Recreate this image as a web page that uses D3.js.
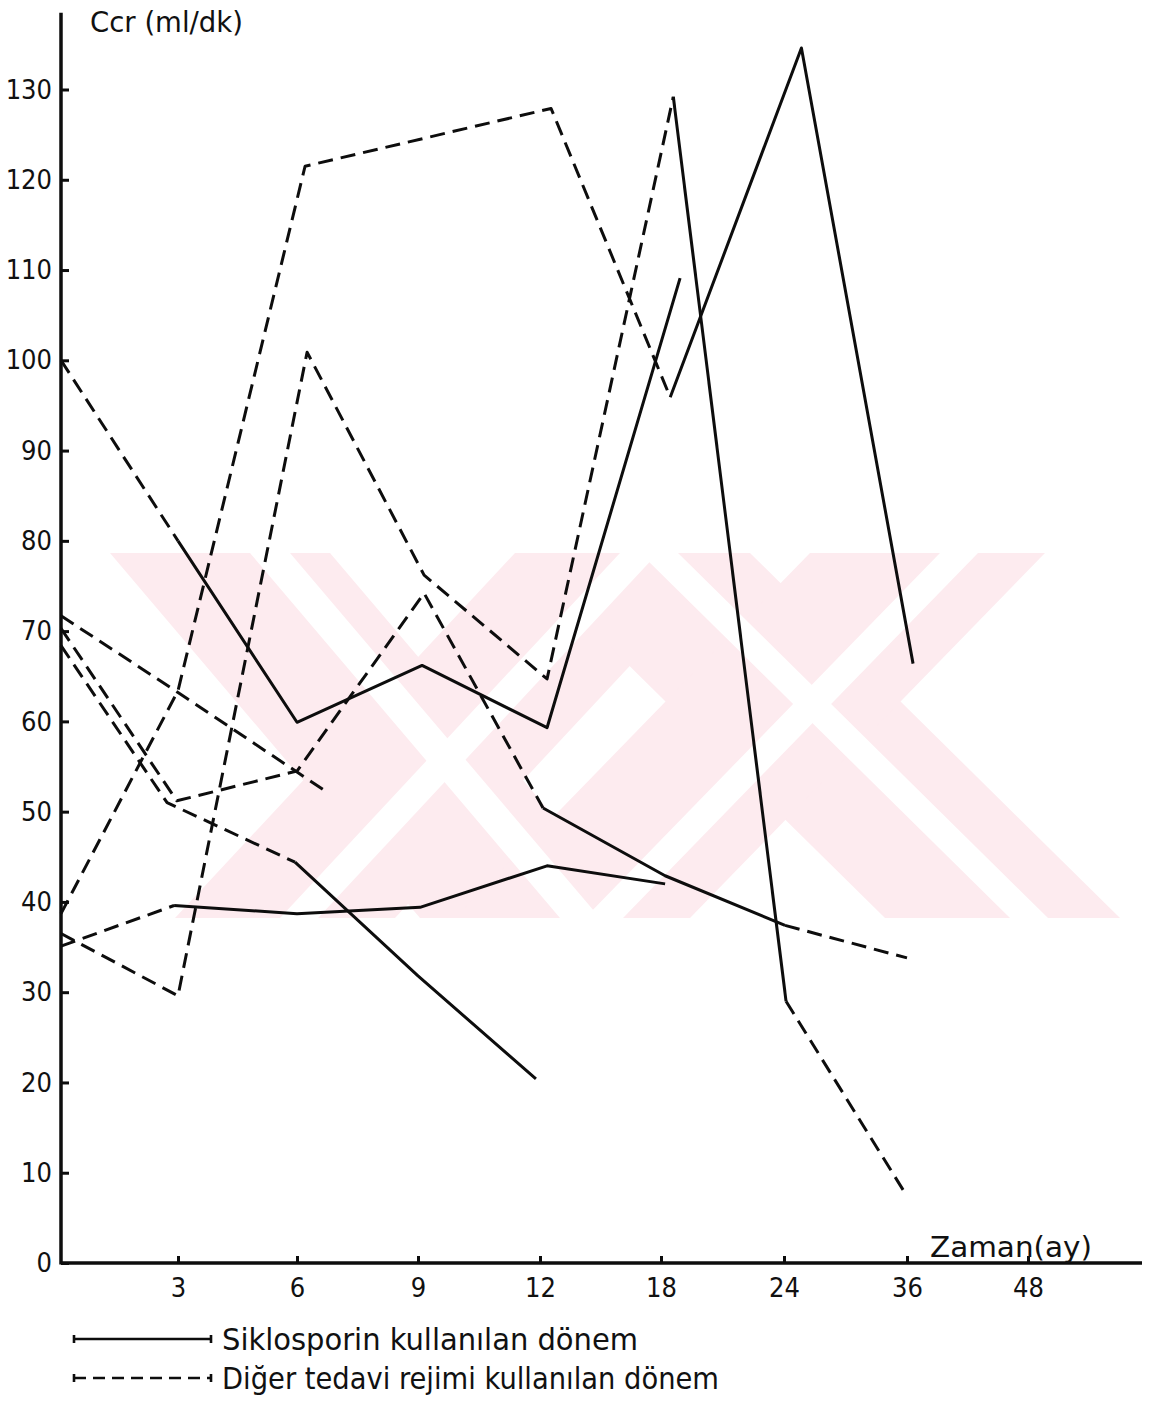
<!DOCTYPE html>
<html>
<head>
<meta charset="utf-8">
<script src="https://cdn.jsdelivr.net/npm/d3@7"></script>
<style>
  body { margin: 0; background: #fff; }
  text { font-family: "DejaVu Sans Condensed", "DejaVu Sans", sans-serif; fill: #111; }
</style>
</head>
<body>
<svg id="chart" width="1152" height="1406"></svg>
<script>
// Time axis: months after transplantation, equally spaced categories
const months = [0, 3, 6, 9, 12, 18, 24, 36, 48];
const monthLabels = ["", "3", "6", "9", "12", "18", "24", "36", "48"];
const ccrTicks = [0, 10, 20, 30, 40, 50, 60, 70, 80, 90, 100, 110, 120, 130];

// Creatinine clearance per patient; regimen is given per interval:
// "S" = Siklosporin, "D" = diğer tedavi rejimi
const p1Months = [0, 3, 6, 9.1, 12.35, 18.93];
const p1Ccr    = [100, 80, 59.9, 66.2, 59.3, 109.1];
const p1Reg    = ["D", "S", "S", "S", "S"];

const p2Months = [0, 3, 6.2, 12.55, 18.45, 25.7, 36.6];
const p2Ccr    = [38.7, 63.4, 121.5, 127.9, 95.9, 134.6, 66.4];
const p2Reg    = ["D", "D", "D", "D", "S", "S"];

const p3Months = [0, 3, 6.25, 9.15, 12.35, 18.6, 24.2, 36];
const p3Ccr    = [36.5, 29.6, 100.9, 76.2, 64.7, 129.2, 29.0, 7.4];
const p3Reg    = ["D", "D", "D", "D", "D", "S", "D"];

const p4Months = [0, 3, 6.7];
const p4Ccr    = [71.7, 63.2, 52.3];
const p4Reg    = ["D", "D"];

const p5Months = [0, 2.97, 6, 9.15, 12.15, 18.2, 24.1, 36];
const p5Ccr    = [70.3, 51.2, 54.5, 74.2, 50.4, 42.9, 37.4, 33.8];
const p5Reg    = ["D", "D", "D", "D", "S", "S", "D"];

const p6Months = [0, 2.72, 5.95, 9, 11.9];
const p6Ccr    = [68.4, 51.0, 44.4, 31.8, 20.4];
const p6Reg    = ["D", "D", "S", "S"];

const p7Months = [0, 2.9, 6, 9.05, 12.35, 18.2];
const p7Ccr    = [35.1, 39.6, 38.7, 39.4, 44.0, 42.0];
const p7Reg    = ["D", "S", "S", "S", "S"];

const legendLabels = ["Siklosporin kullanılan dönem", "Diğer tedavi rejimi kullanılan dönem"];

const patients = [
  [p1Months, p1Ccr, p1Reg], [p2Months, p2Ccr, p2Reg], [p3Months, p3Ccr, p3Reg],
  [p4Months, p4Ccr, p4Reg], [p5Months, p5Ccr, p5Reg], [p6Months, p6Ccr, p6Reg],
  [p7Months, p7Ccr, p7Reg]
];

const svg = d3.select("#chart");
const ink = "#0d0d0d";
const dash = "15,8";

// Archive watermark behind the plot: two crossed chevron pairs
const mark = svg.append("g");
const markBands = [
  [[110,553],[330,553],[640,918],[420,918]],
  [[175,918],[395,918],[735,553],[515,553]],
  [[515,553],[750,553],[1120,918],[885,918]],
  [[455,918],[690,918],[1045,553],[810,553]]
];
mark.selectAll("polygon.band").data(markBands).join("polygon")
  .attr("class", "band").attr("fill", "#fdebef")
  .attr("points", d => d.map(p => p.join(",")).join(" "));
const markGaps = [
  [[250,553],[290,553],[600,918],[560,918]],
  [[280,918],[318,918],[658,553],[620,553]],
  [[640,553],[678,553],[1048,918],[1010,918]],
  [[585,918],[623,918],[978,553],[940,553]]
];
mark.selectAll("polygon.gap").data(markGaps).join("polygon")
  .attr("class", "gap").attr("fill", "#fff")
  .attr("points", d => d.map(p => p.join(",")).join(" "));

// Scales: piecewise-linear over the unequal month steps
const x = d3.scaleLinear()
  .domain(months)
  .range([61, 178, 297, 418, 540, 661, 784, 907, 1028]);
const y = d3.scaleLinear().domain([0, 130]).range([1263, 89.5]);

// Axes
const yAxis = d3.axisLeft(y).tickValues(ccrTicks).tickSize(-8).tickPadding(9);
const gy = svg.append("g").attr("transform", `translate(${x(0)},0)`).call(yAxis);
gy.select(".domain").remove();
gy.selectAll(".tick line").attr("stroke", ink).attr("stroke-width", 3);
gy.selectAll(".tick text").attr("font-size", 27).attr("fill", ink);

const xAxis = d3.axisBottom(x).tickValues(months.slice(1))
  .tickFormat((d, i) => monthLabels[i + 1]).tickSize(-7).tickPadding(15);
const gx = svg.append("g").attr("transform", `translate(0,${y(0)})`).call(xAxis);
gx.select(".domain").remove();
gx.selectAll(".tick line").attr("stroke", ink).attr("stroke-width", 3);
gx.selectAll(".tick text").attr("font-size", 27).attr("fill", ink);

svg.append("line")
  .attr("x1", x(0)).attr("x2", x(0)).attr("y1", y(138.5)).attr("y2", y(0) + 1.5)
  .attr("stroke", ink).attr("stroke-width", 3.5);
svg.append("line")
  .attr("x1", x(0)).attr("x2", 1142).attr("y1", y(0)).attr("y2", y(0))
  .attr("stroke", ink).attr("stroke-width", 3.5);

svg.append("text").attr("x", 90).attr("y", 32).attr("font-size", 29)
  .attr("textLength", 153).attr("lengthAdjust", "spacingAndGlyphs")
  .text("Ccr (ml/dk)");
svg.append("text").attr("x", 930).attr("y", 1257).attr("font-size", 29)
  .attr("textLength", 162).attr("lengthAdjust", "spacingAndGlyphs")
  .text("Zaman(ay)");

// Patient curves: each interval is solid (Siklosporin) or dashed (other regimen)
const plot = svg.append("g").attr("fill", "none").attr("stroke", ink)
  .attr("stroke-width", 3).attr("stroke-linejoin", "round");

patients.forEach(([m, v, reg]) => {
  // group consecutive intervals with the same regimen into one path
  const runs = [];
  reg.forEach((r, i) => {
    const last = runs[runs.length - 1];
    if (last && last.reg === r) last.pts.push([m[i + 1], v[i + 1]]);
    else runs.push({ reg: r, pts: [[m[i], v[i]], [m[i + 1], v[i + 1]]] });
  });
  const line = d3.line().x(d => x(d[0])).y(d => y(d[1]));
  runs.forEach(run => {
    plot.append("path").attr("d", line(run.pts))
      .attr("stroke-dasharray", run.reg === "D" ? dash : null);
  });
});

// Legend
const lg = svg.append("g").attr("stroke", ink).attr("stroke-width", 2.6);
legendLabels.forEach((label, i) => {
  const ly = 1339 + i * 39;
  lg.append("line").attr("x1", 74).attr("x2", 211).attr("y1", ly).attr("y2", ly)
    .attr("stroke-dasharray", i === 1 ? "12,7" : null);
  lg.append("line").attr("x1", 74).attr("x2", 74).attr("y1", ly - 4).attr("y2", ly + 4);
  lg.append("line").attr("x1", 211).attr("x2", 211).attr("y1", ly - 4).attr("y2", ly + 4);
  svg.append("text").attr("x", 222).attr("y", ly + 11).attr("font-size", 31)
    .attr("textLength", i === 0 ? 416 : 497).attr("lengthAdjust", "spacingAndGlyphs")
    .text(label);
});
</script>
</body>
</html>
